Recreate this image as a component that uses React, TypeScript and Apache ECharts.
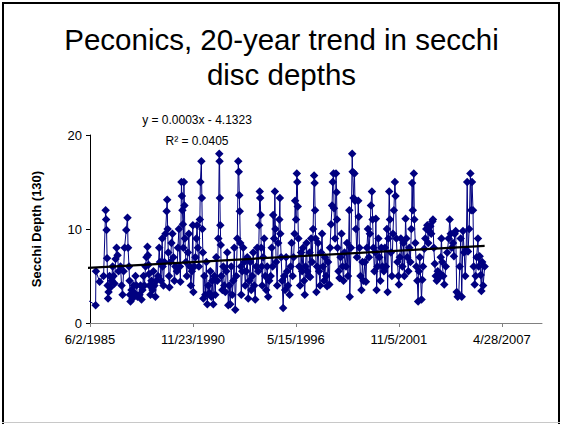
import React, { useEffect, useRef } from "react";
import * as echarts from "echarts";

// Each entry: [day offset from Jan 1 of that year, Secchi depth]
const d1985 = [[87,2.5],[261,1.9],[267,5.5],[339,4.4]];
const d1986 = [[51,5.0],[90,12.0],[100,11.0],[109,9.9],[119,6.9],[129,4.0],[138,2.6],[148,3.3],[167,5.0],[187,3.8],[206,4.5],[226,6.0],[245,5.0],[264,4.2],[284,6.8],[303,8.0],[322,7.2],[342,5.5]];
const d1987 = [[15,6.0],[35,4.0],[54,3.0],[74,5.5],[93,8.0],[126,9.9],[151,11.2],[161,8.0],[180,6.0],[190,4.5],[199,3.0],[209,2.3],[228,3.5],[248,2.6],[267,4.0],[287,3.2],[306,5.0],[325,4.0],[345,2.8]];
const d1988 = [[18,3.0],[38,4.0],[57,2.5],[76,3.5],[96,5.0],[115,4.0],[135,6.0],[154,7.0],[173,8.1],[183,7.2],[193,6.2],[202,5.2],[212,4.0],[231,3.0],[251,4.5],[270,3.5],[289,5.5],[309,4.0],[328,2.8],[348,4.5]];
const d1989 = [[12,5.0],[35,8.0],[50,6.5],[70,4.5],[93,9.0],[103,6.0],[118,4.0],[137,6.5],[157,9.5],[180,11.9],[190,13.1],[199,10.0],[211,7.5],[225,5.0],[234,3.8],[254,6.5],[273,8.5],[292,9.5],[312,7.0],[331,4.5],[350,6.0]];
const d1990 = [[15,5.5],[34,8.0],[53,10.0],[73,6.0],[82,4.4],[102,15.0],[111,13.5],[121,12.0],[131,10.5],[140,8.0],[150,15.0],[160,12.5],[169,9.0],[189,6.5],[208,5.0],[227,7.5],[247,9.5],[266,6.0],[286,4.0],[305,5.5],[324,10.4],[334,3.3],[353,6.0]];
const d1991 = [[8,7.0],[27,9.0],[41,10.4],[56,8.0],[76,6.0],[95,11.0],[105,15.0],[124,17.2],[134,13.3],[143,10.0],[153,7.5],[163,2.6],[182,5.0],[201,3.0],[221,6.5],[240,2.0],[259,4.0],[279,3.2],[298,5.5],[318,2.8],[337,4.5],[356,2.0]];
const d1992 = [[11,5.0],[30,3.0],[49,7.0],[69,4.5],[88,9.0],[107,18.0],[113,17.2],[119,13.3],[127,10.4],[136,8.3],[146,5.0],[166,3.5],[185,6.0],[204,4.0],[224,3.3],[243,5.5],[262,7.5],[282,1.9],[301,4.0],[320,2.0],[340,6.0],[359,3.0]];
const d1993 = [[14,4.5],[33,8.0],[52,1.4],[72,5.0],[91,9.0],[110,17.2],[120,16.1],[130,13.6],[139,11.9],[149,8.5],[159,6.0],[168,3.0],[188,5.5],[207,8.0],[227,6.5],[246,4.0],[265,5.5],[285,7.0],[304,2.6],[323,4.5],[343,6.5],[362,3.5]];
const d1994 = [[16,5.0],[36,7.5],[55,4.0],[75,2.5],[94,6.0],[113,8.0],[133,5.5],[152,10.4],[162,14.0],[171,13.3],[181,11.5],[191,8.0],[200,6.0],[210,4.0],[229,7.0],[249,9.0],[268,5.0],[287,3.5],[307,6.0],[326,2.8],[346,4.5]];
const d1995 = [[10,5.0],[29,8.0],[48,6.0],[58,11.5],[77,9.0],[91,14.0],[101,10.0],[116,6.5],[136,4.0],[155,8.5],[178,11.0],[188,13.3],[197,9.5],[213,7.0],[232,4.5],[252,1.6],[271,5.0],[290,3.5],[310,7.0],[329,5.5],[348,4.0]];
const d1996 = [[13,3.0],[32,6.0],[51,8.5],[71,5.0],[90,7.0],[109,9.5],[119,13.0],[138,11.0],[152,15.9],[162,15.0],[171,12.4],[183,9.0],[197,6.0],[216,4.0],[235,7.5],[255,5.5],[274,8.0],[293,4.5],[307,3.0],[322,6.0],[342,8.5],[355,5.5]];
const d1997 = [[15,5.0],[35,7.5],[45,4.9],[64,9.0],[83,6.5],[103,10.0],[122,15.7],[132,14.9],[141,12.0],[151,9.0],[166,3.3],[180,6.0],[199,8.5],[219,5.5],[238,4.0],[257,7.5],[277,9.5],[296,6.0],[316,4.5],[335,7.0],[354,5.0]];
const d1998 = [[9,3.9],[28,6.5],[53,4.1],[67,8.0],[86,10.5],[106,12.5],[119,15.0],[135,15.9],[144,12.2],[164,9.0],[183,15.9],[193,13.9],[202,11.0],[212,8.0],[231,5.5],[251,4.8],[270,7.0],[289,9.5],[309,6.0],[328,4.5],[348,7.5]];
const d1999 = [[12,6.0],[31,8.5],[50,5.0],[76,12.0],[85,2.8],[108,8.0],[132,18.0],[141,16.1],[157,13.3],[176,15.9],[186,13.0],[205,10.0],[225,7.0],[250,13.0],[259,11.3],[273,8.0],[292,5.0],[312,3.5],[331,6.5],[350,4.5]];
const d2000 = [[15,6.5],[34,4.4],[53,8.0],[73,10.0],[92,7.0],[111,9.5],[131,12.5],[150,14.0],[164,11.0],[179,8.0],[198,5.5],[218,7.5],[227,11.1],[241,3.5],[257,6.0],[276,9.0],[295,7.0],[315,4.5],[334,8.0],[353,6.0]];
const d2001 = [[17,5.5],[37,8.0],[56,6.0],[76,10.0],[89,3.3],[105,9.0],[120,14.0],[134,11.0],[153,7.5],[172,5.0],[192,9.5],[211,12.0],[230,15.0],[244,13.5],[259,9.0],[279,6.5],[298,5.0],[308,4.1],[327,7.0],[347,9.0]];
const d2002 = [[11,6.0],[30,8.5],[49,5.0],[73,11.1],[88,9.0],[107,7.0],[127,5.5],[146,8.0],[166,6.5],[185,10.0],[200,14.9],[214,12.0],[233,15.9],[243,11.0],[262,8.5],[282,6.0],[301,4.5],[317,2.3],[330,5.5],[349,7.0]];
const d2003 = [[17,2.5],[33,4.6],[48,6.0],[72,7.9],[91,9.0],[110,10.0],[130,10.4],[149,8.5],[168,9.8],[188,10.3],[207,9.5],[227,10.8],[240,11.0],[256,8.0],[275,6.3],[294,5.0],[314,4.5],[333,5.5],[352,4.8]];
const d2004 = [[7,5.3],[26,7.0],[40,9.0],[55,6.5],[75,5.0],[94,4.1],[123,6.0],[152,7.5],[181,9.0],[200,11.0],[220,9.5],[239,8.0],[264,8.5],[282,7.1],[297,9.5],[317,9.8],[336,3.3],[355,2.8]];
const d2005 = [[10,3.0],[29,6.0],[48,9.0],[68,2.8],[93,9.8],[116,7.5],[136,5.0],[155,7.8],[174,15.0],[190,7.6],[213,10.0],[236,15.9],[252,12.0],[267,15.0],[287,12.0],[300,6.0],[319,4.1],[339,5.0],[358,7.0]];
const d2006 = [[18,9.0],[32,6.0],[51,7.1],[71,5.1],[84,3.4],[100,6.5],[119,4.0],[148,6.0]];

const yearData: [number, number[][]][] = [
  [1985, d1985], [1986, d1986], [1987, d1987], [1988, d1988], [1989, d1989],
  [1990, d1990], [1991, d1991], [1992, d1992], [1993, d1993], [1994, d1994],
  [1995, d1995], [1996, d1996], [1997, d1997], [1998, d1998], [1999, d1999],
  [2000, d2000], [2001, d2001], [2002, d2002], [2003, d2003], [2004, d2004],
  [2005, d2005], [2006, d2006],
];

const xTickLabels = ["6/2/1985", "11/23/1990", "5/15/1996", "11/5/2001", "4/28/2007"];
const yTicks = [0, 10, 20];
const trendValues = [5.85, 8.2];

const titleText = "Peconics, 20-year trend in secchi\ndisc depths";
const yAxisTitle = "Secchi Depth (130)";
const equationText = "y = 0.0003x - 4.1323";
const r2Text = "R² = 0.0405";

const EPOCH = Date.UTC(1899, 11, 30);
const DAY = 86400000;
const serialOf = (y: number, m: number, d: number) => Math.round((Date.UTC(y, m - 1, d) - EPOCH) / DAY);
const parseMDY = (s: string) => {
  const [m, d, y] = s.split("/").map(Number);
  return serialOf(y, m, d);
};
const fmtSerial = (v: number) => {
  const dt = new Date(EPOCH + Math.round(v) * DAY);
  return `${dt.getUTCMonth() + 1}/${dt.getUTCDate()}/${dt.getUTCFullYear()}`;
};

const FONT = "'Liberation Sans', Arial, Helvetica, sans-serif";

export default function App() {
  const ref = useRef<HTMLDivElement>(null);
  useEffect(() => {
    if (!ref.current) return;
    const chart = echarts.init(ref.current, undefined, { renderer: "svg" });
    const points: number[][] = [];
    yearData.forEach(([yr, arr]) => {
      const base = serialOf(yr, 1, 1);
      arr.forEach(([off, v]) => points.push([base + off, v]));
    });
    const tickVals = xTickLabels.map(parseMDY);
    const trend = [
      [points[0][0], trendValues[0]],
      [points[points.length - 1][0], trendValues[1]],
    ];
    chart.setOption({
      animation: false,
      backgroundColor: "#ffffff",
      textStyle: { fontFamily: FONT },
      title: {
        text: titleText,
        left: "center",
        top: 17,
        textStyle: { fontSize: 29.5, fontWeight: "normal", color: "#000", lineHeight: 35, fontFamily: FONT },
      },
      grid: { left: 90, right: 21, top: 135, bottom: 101 },
      xAxis: {
        type: "value",
        min: tickVals[0],
        max: 39980,
        axisLine: { lineStyle: { color: "#808080", width: 1 } },
        axisTick: { show: true, length: 4, customValues: tickVals, lineStyle: { color: "#808080" } },
        axisLabel: { customValues: tickVals, formatter: (v: number) => fmtSerial(v), fontSize: 13, color: "#000", margin: 10, fontFamily: FONT },
        splitLine: { show: false },
      },
      yAxis: {
        type: "value",
        min: yTicks[0],
        max: yTicks[yTicks.length - 1],
        interval: 10,
        name: yAxisTitle,
        nameLocation: "middle",
        nameGap: 47,
        nameTextStyle: { fontSize: 13, fontWeight: "bold", color: "#000", fontFamily: FONT },
        axisLine: { show: true, lineStyle: { color: "#000", width: 1 } },
        axisTick: { show: true, length: 4, lineStyle: { color: "#000" } },
        axisLabel: { fontSize: 13, color: "#000", margin: 8, fontFamily: FONT },
        splitLine: { show: false },
      },
      series: [
        {
          type: "line",
          data: points,
          symbol: "diamond",
          symbolSize: 8.5,
          showAllSymbol: true,
          lineStyle: { color: "#000080", width: 1 },
          itemStyle: { color: "#000080" },
        },
        {
          type: "line",
          data: trend,
          symbol: "none",
          lineStyle: { color: "#000", width: 2.2 },
          z: 5,
        },
      ],
      graphic: [
        { type: "text", x: 197, y: 120, style: { text: equationText, fontSize: 12, fill: "#000", align: "center", verticalAlign: "middle", fontFamily: FONT } },
        { type: "text", x: 197, y: 141, style: { text: r2Text, fontSize: 12, fill: "#000", align: "center", verticalAlign: "middle", fontFamily: FONT } },
        { type: "line", shape: { x1: 3, y1: 2, x2: 3, y2: 424 }, style: { stroke: "#000", lineWidth: 2 } },
        { type: "line", shape: { x1: 2, y1: 3, x2: 560, y2: 3 }, style: { stroke: "#000", lineWidth: 2 } },
        { type: "line", shape: { x1: 559, y1: 2, x2: 559, y2: 424 }, style: { stroke: "#000", lineWidth: 2 } },
        { type: "line", shape: { x1: 2, y1: 422.5, x2: 560, y2: 422.5 }, style: { stroke: "#c8c8c8", lineWidth: 1 } },
      ],
    });
    return () => chart.dispose();
  }, []);
  return <div ref={ref} style={{ position: "absolute", left: 0, top: 0, width: 563, height: 424 }} />;
}
